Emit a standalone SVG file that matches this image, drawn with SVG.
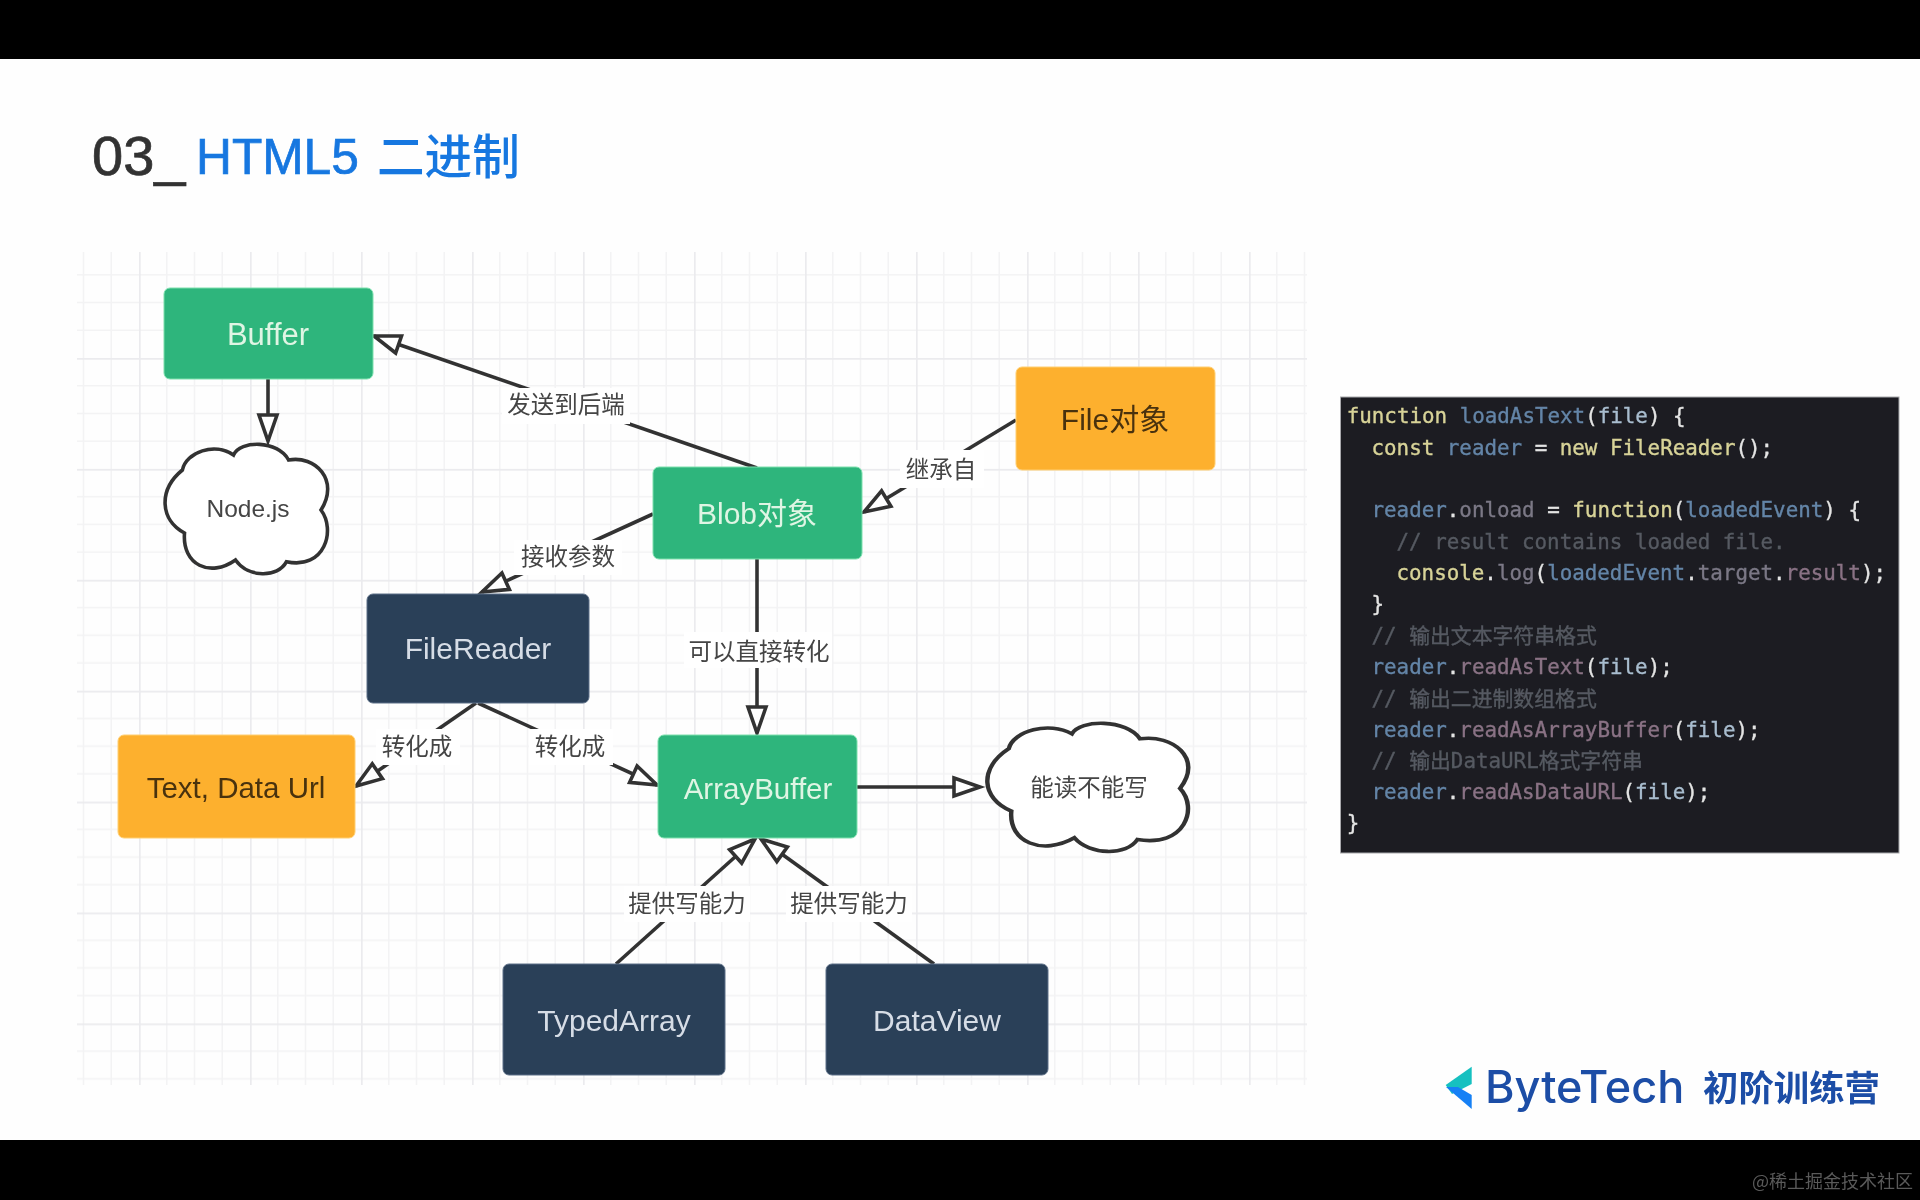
<svg xmlns="http://www.w3.org/2000/svg" xmlns:xlink="http://www.w3.org/1999/xlink" width="1920" height="1200" viewBox="0 0 1920 1200">
<style>
.n{font-family:"Liberation Sans","Noto Sans CJK SC",sans-serif;font-size:30px;text-anchor:middle}
.l{font-family:"Noto Sans CJK SC","Liberation Sans",sans-serif;font-size:23.5px;text-anchor:middle;fill:#444}
.w{fill:#dff5e4}.d{fill:#d6dde6}.o{fill:#4a3210}.k{fill:#333}
.c{stroke:#333;stroke-width:3.6;fill:none}
.lb{fill:#fff}
.code{font-family:"DejaVu Sans Mono","Noto Sans CJK SC",monospace;font-size:20.85px;fill:#e4e4e4;stroke:#e4e4e4;stroke-width:.35}
.y{fill:#d8d398;stroke:#d8d398}.b{fill:#6485a8;stroke:#6485a8}.p{fill:#8a7285;stroke:#8a7285}.g{fill:#565a62;stroke:#565a62}.v{fill:#a9bdcf;stroke:#a9bdcf}.m{fill:#7b7886;stroke:#7b7886}
.cl{fill:#fff;stroke:#333;stroke-width:3.6;vector-effect:non-scaling-stroke}
</style>
<defs>
<filter id="soft" x="-2%" y="-2%" width="104%" height="104%"><feGaussianBlur stdDeviation="0.7"/></filter>
<marker id="ah" markerUnits="userSpaceOnUse" markerWidth="32" markerHeight="26" refX="28" refY="12" orient="auto" overflow="visible">
<path d="M2 3 L28 12 L2 21 Z" fill="#fff" stroke="#333" stroke-width="3.6"/>
</marker>
<pattern id="grid" patternUnits="userSpaceOnUse" x="139" y="358" width="111" height="110.9">
<path d="M27.75 0V110.9M55.5 0V110.9M83.25 0V110.9M0 27.7H111M0 55.4H111M0 83.2H111" stroke="#f3f3f4" stroke-width="1.6" fill="none"/>
<path d="M0.8 0V110.9M0 0.8H111" stroke="#ebebee" stroke-width="1.8" fill="none"/>
</pattern>
<path id="cloud" d="M182.4 470C186 452 215 442 233.5 455C240 440 278 440 288.6 460C315 455 340 480 321 510C336 530 325 570 286.5 561.7C278 578 248 578 235.5 560C210 578 182 565 184.5 533C160 520 158 490 182.4 470Z"/>
</defs>
<rect width="1920" height="1200" fill="#000"/>
<rect y="59" width="1920" height="1081" fill="#fefefe"/>
<g id="title" filter="url(#soft)">
<text x="92" y="175" font-family="Liberation Sans,sans-serif" font-size="56" fill="#333" stroke="#333" stroke-width=".7">03_</text>
<text x="196" y="174" font-family="Liberation Sans,sans-serif" font-size="49.7" fill="#1677e0" stroke="#1677e0" stroke-width=".7">HTML5</text>
<text x="377" y="174" font-family="Noto Sans CJK SC,sans-serif" font-size="47.6" font-weight="500" fill="#1677e0">二进制</text>
</g>
<rect id="grid-bg" x="77" y="252" width="1230" height="833" fill="url(#grid)"/>
<g filter="url(#soft)">
<g id="connectors">
<path class="c" marker-end="url(#ah)" d="M757 468L374 336"/>
<path class="c" marker-end="url(#ah)" d="M268 379V441"/>
<path class="c" marker-end="url(#ah)" d="M1016 420L864 512"/>
<path class="c" marker-end="url(#ah)" d="M653 514L482 592"/>
<path class="c" marker-end="url(#ah)" d="M757 559V733"/>
<path class="c" marker-end="url(#ah)" d="M476 703L356 786"/>
<path class="c" marker-end="url(#ah)" d="M478 703L657 785"/>
<path class="c" marker-end="url(#ah)" d="M857 787H980"/>
<path class="c" marker-end="url(#ah)" d="M616 964L755 839"/>
<path class="c" marker-end="url(#ah)" d="M934 964L761 839"/>
<g id="labels">
<rect class="lb" x="502" y="388" width="128" height="36"/><text class="l" x="566" y="413">发送到后端</text>
<rect class="lb" x="900" y="450" width="84" height="38"/><text class="l" x="941" y="478">继承自</text>
<rect class="lb" x="514" y="540" width="108" height="35"/><text class="l" x="568" y="565">接收参数</text>
<rect class="lb" x="684" y="632" width="148" height="36"/><text class="l" x="759" y="660">可以直接转化</text>
<rect class="lb" x="376" y="729" width="84" height="36"/><text class="l" x="417" y="755">转化成</text>
<rect class="lb" x="529" y="729" width="84" height="36"/><text class="l" x="570" y="755">转化成</text>
<rect class="lb" x="624" y="886" width="126" height="36"/><text class="l" x="687" y="912">提供写能力</text>
<rect class="lb" x="786" y="886" width="126" height="36"/><text class="l" x="849" y="912">提供写能力</text>
</g>
</g>
<g id="buffer"><rect x="164" y="288" width="209" height="91" rx="6" fill="#2fb57b" stroke="#7ce0ae"/><text class="n w" style="font-size:31px" x="268" y="345">Buffer</text></g>
<g id="nodejs"><use xlink:href="#cloud" href="#cloud" class="cl"/><text class="l" style="font-family:'Liberation Sans',sans-serif;font-size:24.5px" x="248" y="517">Node.js</text></g>
<g id="blob"><rect x="653" y="467" width="209" height="92" rx="6" fill="#2fb57b" stroke="#7ce0ae"/><text class="n w" x="757" y="524">Blob对象</text></g>
<g id="file"><rect x="1016" y="367" width="199" height="103" rx="6" fill="#fdb02f" stroke="#ffcf73"/><text class="n o" x="1115" y="430">File对象</text></g>
<g id="filereader"><rect x="367" y="594" width="222" height="109" rx="6" fill="#2b3f58" stroke="#5d7087"/><text class="n d" x="478" y="659">FileReader</text></g>
<g id="textdataurl"><rect x="118" y="735" width="237" height="103" rx="6" fill="#fdb02f" stroke="#ffcf73"/><text class="n o" style="font-size:29.5px" x="236" y="798">Text, Data Url</text></g>
<g id="arraybuffer"><rect x="658" y="735" width="199" height="103" rx="6" fill="#2fb57b" stroke="#7ce0ae"/><text class="n w" style="font-size:29.5px" x="758" y="799">ArrayBuffer</text></g>
<g id="readonly"><use xlink:href="#cloud" href="#cloud" class="cl" transform="translate(986 722) scale(1.236 0.99) translate(-164 -443)"/><text class="l" x="1089" y="796">能读不能写</text></g>
<g id="typedarray"><rect x="503" y="964" width="222" height="111" rx="6" fill="#2b3f58" stroke="#5d7087"/><text class="n d" x="614" y="1031">TypedArray</text></g>
<g id="dataview"><rect x="826" y="964" width="222" height="111" rx="6" fill="#2b3f58" stroke="#5d7087"/><text class="n d" x="937" y="1031">DataView</text></g>
<g id="code">
<rect x="1340.5" y="397" width="558.5" height="456" fill="#1d1e23" stroke="#a8a8ac"/>
<text class="code" x="1346.7" y="423"><tspan class="y">function</tspan> <tspan class="b">loadAsText</tspan>(<tspan class="v">file</tspan>) {</text>
<text class="code" x="1371.5" y="454.6"><tspan class="y">const</tspan> <tspan class="b">reader</tspan> = <tspan class="y">new FileReader</tspan>();</text>
<text class="code" x="1371.5" y="517"><tspan class="b">reader</tspan>.<tspan class="m">onload</tspan> = <tspan class="y">function</tspan>(<tspan class="b">loadedEvent</tspan>) {</text>
<text class="code g" x="1396.5" y="548.8">// result contains loaded file.</text>
<text class="code" x="1396.5" y="579.8"><tspan class="y">console</tspan>.<tspan class="m">log</tspan>(<tspan class="b">loadedEvent</tspan>.<tspan class="m">target</tspan>.<tspan class="p">result</tspan>);</text>
<text class="code" x="1371.5" y="611">}</text>
<text class="code g" x="1371.5" y="643.2">// 输出文本字符串格式</text>
<text class="code" x="1371.5" y="673.8"><tspan class="b">reader</tspan>.<tspan class="p">readAsText</tspan>(<tspan class="v">file</tspan>);</text>
<text class="code g" x="1371.5" y="705.8">// 输出二进制数组格式</text>
<text class="code" x="1371.5" y="736.5"><tspan class="b">reader</tspan>.<tspan class="p">readAsArrayBuffer</tspan>(<tspan class="v">file</tspan>);</text>
<text class="code g" x="1371.5" y="768">// 输出DataURL格式字符串</text>
<text class="code" x="1371.5" y="799"><tspan class="b">reader</tspan>.<tspan class="p">readAsDataURL</tspan>(<tspan class="v">file</tspan>);</text>
<text class="code" x="1346.7" y="830.3">}</text>
</g>
<g id="logo">
<polygon points="1471.7,1066.7 1445.7,1085 1452,1094 1471.7,1084" fill="#17c0c0"/>
<polygon points="1446,1087 1471.7,1109 1471.7,1095 1458,1087" fill="#1680f5"/>
<text x="1485" y="1103" font-family="Inter,sans-serif" font-size="45" font-weight="500" fill="#1b4da6">ByteTech</text>
<text x="1703" y="1101" font-family="Noto Sans CJK SC,sans-serif" font-size="35.4" font-weight="700" fill="#1b4da6">初阶训练营</text>
</g>
<text id="watermark" x="1752" y="1188" font-family="Noto Sans CJK SC,sans-serif" font-size="18" fill="#5a5a5a">@稀土掘金技术社区</text>
</g>
</svg>
